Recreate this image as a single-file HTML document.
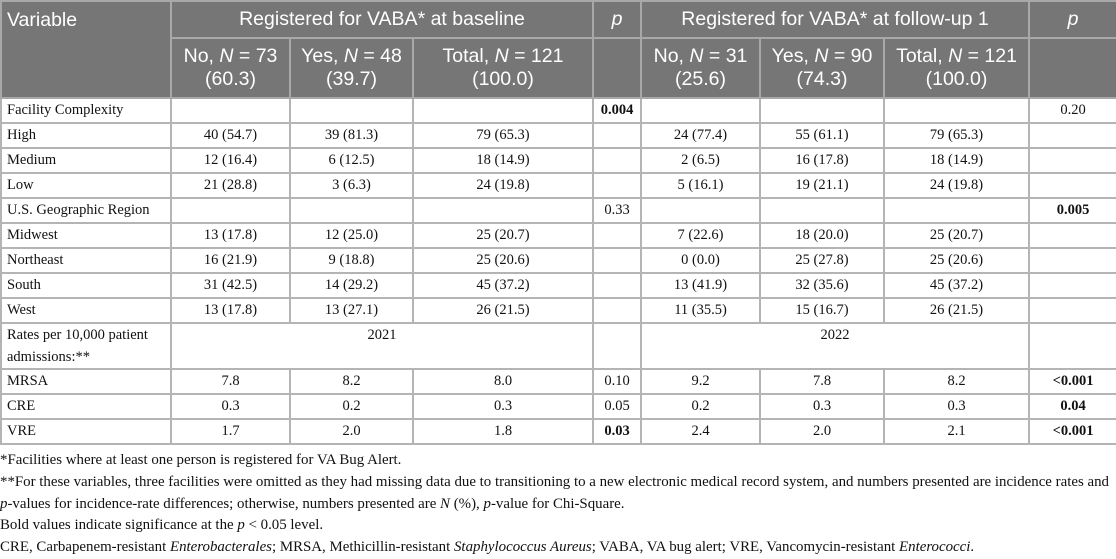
<!DOCTYPE html>
<html><head><meta charset="utf-8"><style>
body{margin:0;width:1116px;height:552px;background:#fff;overflow:hidden;position:relative}
table{position:absolute;left:0;top:0;border-collapse:collapse;table-layout:fixed;width:1116px}
td,th{border:2px solid #b4b4b4;padding:0 5px;box-sizing:border-box;overflow:hidden;white-space:nowrap}
th{background:#767676;color:#fff;font:19.5px "Liberation Sans",sans-serif;font-weight:normal;border-color:#a8a8a8;line-height:23px}
td{font:14.5px "Liberation Serif",serif;color:#111;text-align:center;height:25px}
td.l{text-align:left}
b{font-weight:bold}
.notes{position:absolute;left:0;top:450px;font:14.9px "Liberation Serif",serif;color:#111;line-height:21.8px;width:1116px;white-space:nowrap}
</style></head><body>
<table>
<colgroup><col style="width:170px"><col style="width:119px"><col style="width:123px"><col style="width:180px"><col style="width:48px"><col style="width:119px"><col style="width:124px"><col style="width:145px"><col style="width:88px"></colgroup>
<tr style="height:37px">
<th rowspan="2" style="text-align:left;vertical-align:top;padding-top:7px">Variable</th>
<th colspan="3">Registered for VABA* at baseline</th>
<th><i>p</i></th>
<th colspan="3">Registered for VABA* at follow-up 1</th>
<th><i>p</i></th></tr>
<tr style="height:60px">
<th>No, <i>N</i> = 73<br>(60.3)</th>
<th>Yes, <i>N</i> = 48<br>(39.7)</th>
<th>Total, <i>N</i> = 121<br>(100.0)</th>
<th></th>
<th>No, <i>N</i> = 31<br>(25.6)</th>
<th>Yes, <i>N</i> = 90<br>(74.3)</th>
<th>Total, <i>N</i> = 121<br>(100.0)</th>
<th></th></tr>
<tr><td class="l">Facility Complexity</td><td></td><td></td><td></td><td><b>0.004</b></td><td></td><td></td><td></td><td>0.20</td></tr>
<tr><td class="l">High</td><td>40 (54.7)</td><td>39 (81.3)</td><td>79 (65.3)</td><td></td><td>24 (77.4)</td><td>55 (61.1)</td><td>79 (65.3)</td><td></td></tr>
<tr><td class="l">Medium</td><td>12 (16.4)</td><td>6 (12.5)</td><td>18 (14.9)</td><td></td><td>2 (6.5)</td><td>16 (17.8)</td><td>18 (14.9)</td><td></td></tr>
<tr><td class="l">Low</td><td>21 (28.8)</td><td>3 (6.3)</td><td>24 (19.8)</td><td></td><td>5 (16.1)</td><td>19 (21.1)</td><td>24 (19.8)</td><td></td></tr>
<tr><td class="l">U.S. Geographic Region</td><td></td><td></td><td></td><td>0.33</td><td></td><td></td><td></td><td><b>0.005</b></td></tr>
<tr><td class="l">Midwest</td><td>13 (17.8)</td><td>12 (25.0)</td><td>25 (20.7)</td><td></td><td>7 (22.6)</td><td>18 (20.0)</td><td>25 (20.7)</td><td></td></tr>
<tr><td class="l">Northeast</td><td>16 (21.9)</td><td>9 (18.8)</td><td>25 (20.6)</td><td></td><td>0 (0.0)</td><td>25 (27.8)</td><td>25 (20.6)</td><td></td></tr>
<tr><td class="l">South</td><td>31 (42.5)</td><td>14 (29.2)</td><td>45 (37.2)</td><td></td><td>13 (41.9)</td><td>32 (35.6)</td><td>45 (37.2)</td><td></td></tr>
<tr><td class="l">West</td><td>13 (17.8)</td><td>13 (27.1)</td><td>26 (21.5)</td><td></td><td>11 (35.5)</td><td>15 (16.7)</td><td>26 (21.5)</td><td></td></tr>
<tr style="height:46px"><td class="l" style="line-height:22px;white-space:normal">Rates per 10,000 patient admissions:**</td><td colspan="3" style="vertical-align:top;padding-top:3px">2021</td><td></td><td colspan="3" style="vertical-align:top;padding-top:3px">2022</td><td></td></tr>
<tr><td class="l">MRSA</td><td>7.8</td><td>8.2</td><td>8.0</td><td>0.10</td><td>9.2</td><td>7.8</td><td>8.2</td><td><b>&lt;0.001</b></td></tr>
<tr><td class="l">CRE</td><td>0.3</td><td>0.2</td><td>0.3</td><td>0.05</td><td>0.2</td><td>0.3</td><td>0.3</td><td><b>0.04</b></td></tr>
<tr><td class="l">VRE</td><td>1.7</td><td>2.0</td><td>1.8</td><td><b>0.03</b></td><td>2.4</td><td>2.0</td><td>2.1</td><td><b>&lt;0.001</b></td></tr>
</table>
<div class="notes">
<div>*Facilities where at least one person is registered for VA Bug Alert.</div>
<div>**For these variables, three facilities were omitted as they had missing data due to transitioning to a new electronic medical record system, and numbers presented are incidence rates and</div>
<div><i>p</i>-values for incidence-rate differences; otherwise, numbers presented are <i>N</i> (%), <i>p</i>-value for Chi-Square.</div>
<div>Bold values indicate significance at the <i>p</i> &lt; 0.05 level.</div>
<div>CRE, Carbapenem-resistant <i>Enterobacterales</i>; MRSA, Methicillin-resistant <i>Staphylococcus Aureus</i>; VABA, VA bug alert; VRE, Vancomycin-resistant <i>Enterococci</i>.</div>
</div>
</body></html>
